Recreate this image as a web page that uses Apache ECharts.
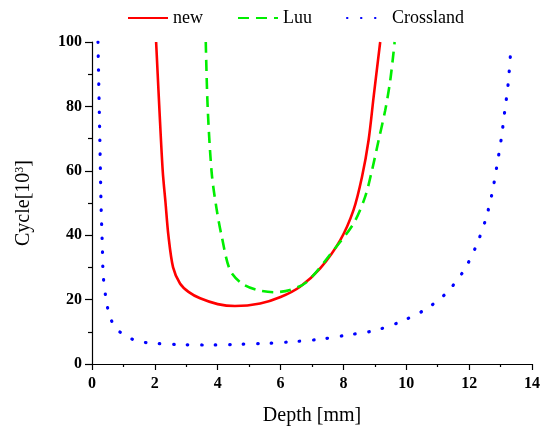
<!DOCTYPE html>
<html><head><meta charset="utf-8">
<script src="https://cdn.jsdelivr.net/npm/echarts@6/dist/echarts.min.js"></script>
<style>html,body{margin:0;padding:0;background:#fff}#c{width:545px;height:427px}</style>
</head><body><div id="c"></div>
<script>
const seriesNames = ['new', 'Luu', 'Crossland'];
const xTicks = [0, 2, 4, 6, 8, 10, 12, 14];
const yTicks = [0, 20, 40, 60, 80, 100];

const newX = [2.04, 2.09, 2.14, 2.25, 2.34, 2.43, 2.58, 2.8, 3.07, 3.44, 4.0, 4.55, 5.35, 6.0, 6.62, 7.26, 7.9, 8.32, 8.59, 8.8, 8.96, 9.17];
const newY = [100, 90, 80, 60, 50, 40, 30, 25, 22.4, 20.4, 18.6, 18.0, 18.8, 20.8, 24.0, 29.7, 38.5, 47.8, 58.1, 69.5, 82.9, 100];

const luuX = [3.62, 3.68, 3.81, 3.97, 4.13, 4.39, 4.77, 5.24, 5.8, 6.3, 6.84, 7.69, 8.32, 8.69, 8.91, 9.12, 9.33, 9.49, 9.63];
const luuY = [100, 79.8, 59.2, 47.8, 39.5, 29.2, 25.0, 23.0, 22.3, 23.0, 25.5, 35.4, 43.6, 51.9, 60.2, 69.5, 78.8, 88.1, 100];

const crossX = [0.19, 0.25, 0.29, 0.33, 0.36, 0.47, 0.57, 0.76, 1.14, 1.56, 2.0, 2.9, 3.76, 4.62, 5.5, 6.38, 7.27, 8.13, 9.0, 9.81, 10.6, 11.26, 11.83, 12.22, 12.52, 12.73, 12.88, 13.02, 13.13, 13.24, 13.34];
const crossY = [100, 69.5, 48.8, 36.4, 27.1, 18.8, 14.7, 11.1, 8.3, 6.9, 6.4, 6.0, 5.9, 6.1, 6.4, 6.9, 7.7, 9.0, 10.4, 13.1, 16.9, 21.9, 29.0, 36.6, 44.7, 53.0, 61.4, 69.8, 78.3, 86.9, 99.5];

const pairs = (xs, ys) => xs.map((x, i) => [x, ys[i]]);
const serif = 'Liberation Serif, Times New Roman, serif';

const chart = echarts.init(document.getElementById('c'));
chart.setOption({
  animation: false,
  backgroundColor: '#fff',
  legend: {
    top: 4, left: 122,
    itemWidth: 40, itemHeight: 14, itemGap: 34,
    itemStyle: { opacity: 0, borderWidth: 0 },
    textStyle: { fontFamily: serif, fontSize: 18, color: '#000' },
    data: seriesNames
  },
  grid: { left: 92, right: 13, top: 42, bottom: 63, containLabel: false, outerBoundsMode: 'none' },
  xAxis: {
    type: 'value', min: 0, max: 14, interval: 2,
    name: 'Depth [mm]', nameLocation: 'middle', nameGap: 42,
    nameTextStyle: { fontFamily: serif, fontSize: 20, color: '#000' },
    axisLine: { show: true, onZero: false, lineStyle: { color: '#000', width: 1.2 } },
    axisTick: { show: true, length: 6, lineStyle: { color: '#000', width: 1.2 } },
    minorTick: { show: true, splitNumber: 2, length: 3, lineStyle: { color: '#000', width: 1.2 } },
    splitLine: { show: false },
    axisLabel: { fontFamily: serif, fontSize: 16, fontWeight: 'bold', color: '#000', margin: 12,
      formatter: v => xTicks.includes(v) ? String(v) : '' }
  },
  yAxis: {
    type: 'value', min: 0, max: 100, interval: 20,
    name: 'Cycle[10{sup|3}]', nameLocation: 'middle', nameGap: 58, nameRotate: 90,
    nameTextStyle: { fontFamily: serif, fontSize: 20, color: '#000',
      rich: { sup: { fontFamily: serif, fontSize: 12, color: '#000', verticalAlign: 'top', padding: [0, 0, 8, 0] } } },
    axisLine: { show: true, onZero: false, lineStyle: { color: '#000', width: 1.2 } },
    axisTick: { show: true, length: 7, lineStyle: { color: '#000', width: 1.2 } },
    minorTick: { show: true, splitNumber: 2, length: 4, lineStyle: { color: '#000', width: 1.2 } },
    splitLine: { show: false },
    axisLabel: { fontFamily: serif, fontSize: 16, fontWeight: 'bold', color: '#000', margin: 10,
      formatter: v => yTicks.includes(v) ? String(v) : '' }
  },
  series: [
    { name: seriesNames[0], type: 'line', data: pairs(newX, newY), showSymbol: false, symbol: 'none',
      smooth: 0.3, color: '#ff0000',
      lineStyle: { color: '#ff0000', width: 2.6 } },
    { name: seriesNames[1], type: 'line', data: pairs(luuX, luuY), showSymbol: false, symbol: 'none',
      smooth: 0.3, color: '#00ee00',
      lineStyle: { color: '#00ee00', width: 2.6, type: [11, 7] } },
    { name: seriesNames[2], type: 'line', data: pairs(crossX, crossY), showSymbol: false, symbol: 'none',
      smooth: 0.3, color: '#0000ff',
      lineStyle: { color: '#0000ff', width: 3.2, type: [0.5, 13.5], cap: 'round' } }
  ]
});
</script></body></html>
